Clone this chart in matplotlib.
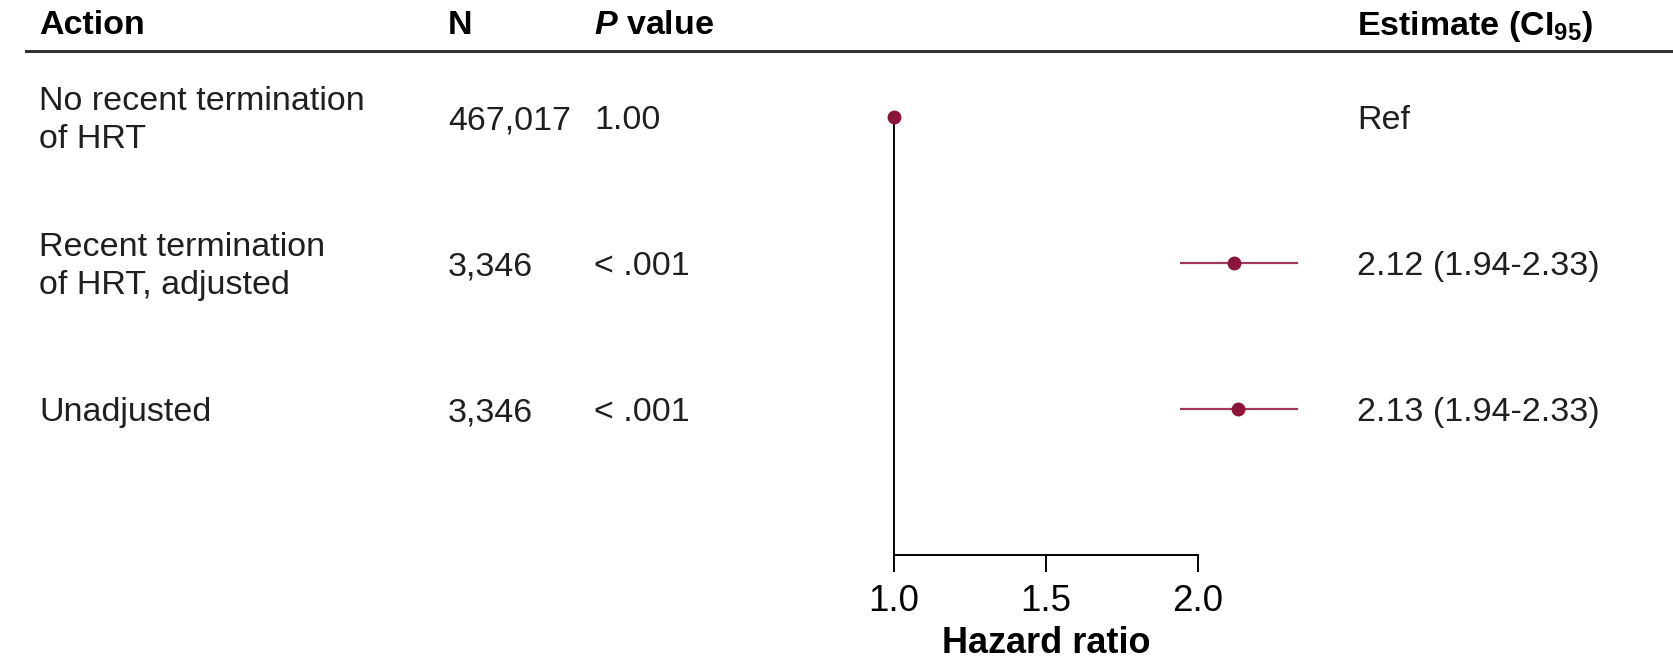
import matplotlib
matplotlib.use("Agg")
import matplotlib.pyplot as plt
import matplotlib.transforms as mtransforms
from matplotlib.lines import Line2D

plt.rcParams['font.family'] = ['Liberation Sans', 'DejaVu Sans']
plt.rcParams['mathtext.fontset'] = 'custom'
plt.rcParams['mathtext.rm'] = 'Liberation Sans:bold'
plt.rcParams['mathtext.bf'] = 'Liberation Sans:bold'
plt.rcParams['mathtext.it'] = 'Liberation Sans:italic:bold'

# data
actions = ["No recent termination\nof HRT", "Recent termination\nof HRT, adjusted", "Unadjusted"]
n_vals = ["467,017", "3,346", "3,346"]
p_vals = ["1.00", "< .001", "< .001"]
estimates = [1.00, 2.12, 2.13]
ci_low = [None, 1.94, 1.94]
ci_high = [None, 2.33, 2.33]
est_labels = ["Ref", "2.12 (1.94-2.33)", "2.13 (1.94-2.33)"]
headers = ["Action", "N", r"$P$ value", r"Estimate (CI$_{\mathbf{95}}$)"]
xticks = [1.0, 1.5, 2.0]

W, H = 1673, 662
fig = plt.figure(figsize=(W / 100, H / 100), dpi=100)

mark_col = "#8a1538"
line_col = "#a03a58"
txt_col = "#1f1f1f"
fs = 24.5

# forest axes: x 1.0 at 894px, 2.0 at 1198px; rows at 117..555px from top
x0, x1 = 894, 1198
ppu = x1 - x0
xmax = 2.4
ax = fig.add_axes([x0 / W, (H - 555) / H, (xmax - 1.0) * ppu / W, (555 - 117) / H])
ax.set_xlim(1.0, xmax)
ax.set_ylim(3, 0)
ax.patch.set_visible(False)

for i, est in enumerate(estimates):
    if ci_low[i] is not None:
        ax.plot([ci_low[i], ci_high[i]], [i, i], color=line_col, lw=1.6,
                clip_on=False, solid_capstyle='butt')
    ax.plot(est, i, 'o', color=mark_col, ms=9, clip_on=False, zorder=5)

ax.spines['top'].set_visible(False)
ax.spines['right'].set_visible(False)
ax.spines['left'].set_bounds(0, 3)
ax.spines['bottom'].set_bounds(1.0, 2.0)
ax.spines['left'].set_linewidth(1.4)
ax.spines['bottom'].set_linewidth(1.4)
ax.set_yticks([])
ax.set_xticks(xticks)
ax.set_xticklabels([f"{t:.1f}" for t in xticks])
ax.tick_params(axis='x', length=12, width=1.4, pad=9, labelsize=26.5, colors='black')
ax.set_xlabel("Hazard ratio", fontsize=26, fontweight='bold')
ax.xaxis.set_label_coords((1.5 - 1.0) / (xmax - 1.0), -0.163)

# table text: x in figure fraction, y in data rows
trans = mtransforms.blended_transform_factory(fig.transFigure, ax.transData)
col_x = [39 / W, 448 / W, 594 / W, 1357 / W]
dy = 0.025
for i in range(len(actions)):
    ax.text(col_x[0], i + dy, actions[i], transform=trans, fontsize=fs, va='center',
            ha='left', linespacing=1.32, color=txt_col)
    ax.text(col_x[1], i + dy, n_vals[i], transform=trans, fontsize=fs, va='center', ha='left', color=txt_col)
    ax.text(col_x[2], i + dy, p_vals[i], transform=trans, fontsize=fs, va='center', ha='left', color=txt_col)
    ax.text(col_x[3], i + dy, est_labels[i], transform=trans, fontsize=fs, va='center', ha='left', color=txt_col)

# header
hy = (H - 26) / H
for x, h in zip(col_x, headers):
    fig.text(x, hy, h, fontsize=fs, fontweight='bold', va='center', ha='left')
ly = (H - 51) / H
fig.add_artist(Line2D([26 / W, 1.0], [ly, ly], transform=fig.transFigure, color='#333333', lw=2.2))

fig.savefig("out.png", dpi=100)
